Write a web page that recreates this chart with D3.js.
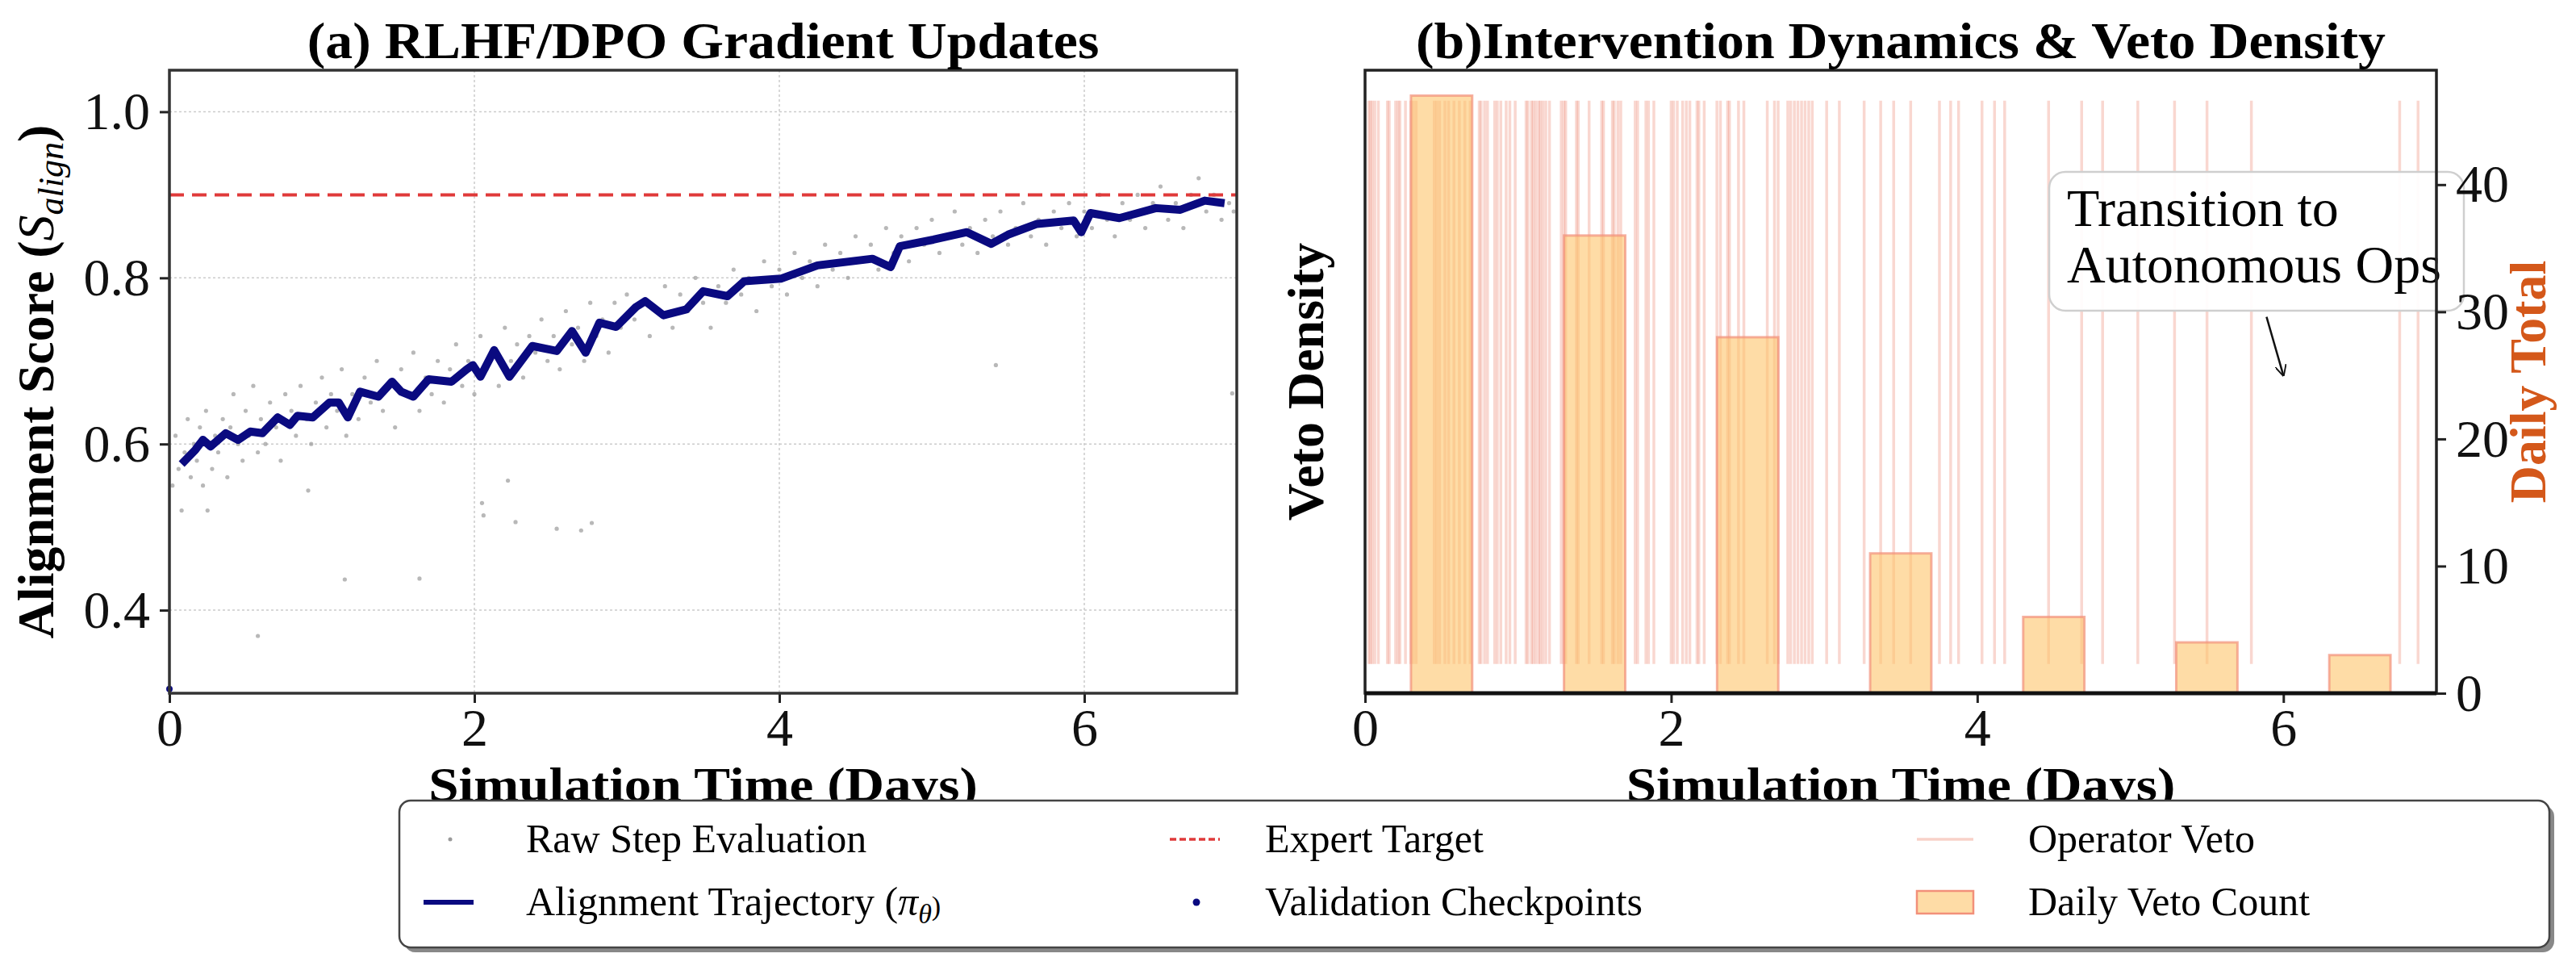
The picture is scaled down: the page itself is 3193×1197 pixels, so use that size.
<!DOCTYPE html>
<html>
<head>
<meta charset="utf-8">
<script src="https://cdn.jsdelivr.net/npm/d3@7"></script>
<style>
  body { margin: 0; background: #fff; }
  text { font-family: "Liberation Serif", "DejaVu Serif", serif; }
</style>
</head>
<body>
<svg id="chart" width="3193" height="1197"></svg>
<script>
// ---- panel (a) data ----
const trajDays = [0.08,0.17,0.22,0.27,0.37,0.45,0.53,0.61,0.71,0.79,0.84,0.94,1.05,1.11,1.17,1.25,1.37,1.46,1.52,1.6,1.7,1.85,1.95,1.99,2.04,2.13,2.23,2.38,2.54,2.64,2.73,2.82,2.93,3.06,3.12,3.24,3.39,3.5,3.66,3.77,4.01,4.25,4.61,4.73,4.79,5.01,5.23,5.39,5.5,5.69,5.93,5.98,6.04,6.23,6.47,6.63,6.79,6.92];
const trajVals = [0.576,0.593,0.605,0.597,0.613,0.605,0.615,0.613,0.632,0.623,0.634,0.632,0.65,0.65,0.632,0.663,0.657,0.675,0.663,0.657,0.678,0.675,0.69,0.695,0.681,0.713,0.681,0.718,0.712,0.736,0.71,0.746,0.741,0.765,0.772,0.755,0.762,0.784,0.778,0.796,0.799,0.815,0.823,0.813,0.838,0.846,0.855,0.841,0.852,0.865,0.869,0.855,0.878,0.872,0.884,0.882,0.893,0.89];
const rawSteps = [[0.02,.55],[0.04,.61],[0.06,.57],[0.08,.52],[0.1,.59],[0.12,.63],[0.14,.56],[0.16,.6],[0.18,.58],[0.2,.62],[0.22,.55],[0.24,.64],[0.26,.6],[0.28,.57],[0.3,.61],[0.32,.59],[0.35,.63],[0.38,.56],[0.4,.62],[0.42,.66],[0.45,.6],[0.48,.58],[0.5,.64],[0.52,.61],[0.55,.67],[0.58,.59],[0.6,.63],[0.63,.6],[0.66,.65],[0.7,.62],[0.73,.58],[0.76,.66],[0.8,.64],[0.83,.61],[0.86,.67],[0.9,.63],[0.93,.6],[0.96,.65],[1.0,.68],[1.03,.62],[1.06,.66],[1.1,.64],[1.13,.69],[1.16,.61],[1.2,.66],[1.24,.63],[1.28,.68],[1.32,.65],[1.36,.7],[1.4,.64],[1.44,.67],[1.48,.62],[1.52,.69],[1.56,.66],[1.6,.71],[1.64,.64],[1.68,.68],[1.72,.66],[1.76,.7],[1.8,.65],[1.84,.69],[1.88,.72],[1.92,.67],[1.96,.7],[2.0,.66],[2.04,.73],[2.08,.69],[2.12,.71],[2.16,.67],[2.2,.74],[2.24,.7],[2.28,.72],[2.32,.68],[2.36,.73],[2.4,.71],[2.44,.75],[2.48,.7],[2.52,.73],[2.56,.69],[2.6,.76],[2.64,.72],[2.68,.74],[2.72,.7],[2.76,.77],[2.8,.73],[2.84,.75],[2.88,.71],[2.92,.77],[2.96,.74],[3.0,.78],[3.05,.75],[3.1,.77],[3.15,.73],[3.2,.76],[3.25,.79],[3.3,.74],[3.35,.78],[3.4,.76],[3.45,.8],[3.5,.77],[3.55,.74],[3.6,.79],[3.65,.77],[3.7,.81],[3.75,.78],[3.8,.8],[3.85,.76],[3.9,.82],[3.95,.79],[4.0,.81],[4.05,.78],[4.1,.83],[4.15,.8],[4.2,.82],[4.25,.79],[4.3,.84],[4.35,.81],[4.4,.83],[4.45,.8],[4.5,.85],[4.55,.82],[4.6,.84],[4.65,.81],[4.7,.86],[4.75,.83],[4.8,.85],[4.85,.82],[4.9,.86],[4.95,.84],[5.0,.87],[5.05,.83],[5.1,.85],[5.15,.88],[5.2,.84],[5.25,.86],[5.3,.83],[5.35,.87],[5.4,.85],[5.45,.88],[5.5,.84],[5.55,.86],[5.6,.89],[5.65,.85],[5.7,.87],[5.75,.84],[5.8,.88],[5.85,.86],[5.9,.89],[5.95,.85],[6.0,.88],[6.05,.86],[6.1,.9],[6.15,.87],[6.2,.85],[6.25,.89],[6.3,.87],[6.35,.9],[6.4,.86],[6.45,.89],[6.5,.91],[6.55,.87],[6.6,.89],[6.65,.86],[6.7,.9],[6.75,.92],[6.8,.88],[6.85,.9],[6.9,.87],[6.95,.89],[6.98,.88],
  [1.15,.437],[1.64,.438],[0.58,.369],[2.05,.529],[2.06,.514],[2.22,.556],[2.27,.506],[2.54,.498],[2.7,.496],[2.77,.505],[0.91,.544],[0.25,.52],[5.42,.695],[6.97,.661]];
const checkDays = [0];
const checkVals = [0.305];
const targetScore = 0.9;

// ---- panel (b) data ----
const vetoDays = [0.024,0.035,0.047,0.064,0.087,0.146,0.158,0.2,0.216,0.228,0.264,0.299,0.315,0.334,0.452,0.468,0.487,0.522,0.546,0.581,0.616,0.652,0.687,0.746,0.758,0.781,0.8,0.847,0.864,0.887,0.922,0.946,0.981,1.052,1.064,1.087,1.099,1.115,1.134,1.146,1.162,1.181,1.205,1.282,1.299,1.311,1.381,1.393,1.464,1.546,1.558,1.616,1.628,1.652,1.671,1.765,1.781,1.835,1.852,1.887,2.0,2.016,2.04,2.075,2.099,2.122,2.169,2.181,2.216,2.299,2.322,2.369,2.381,2.44,2.475,2.628,2.675,2.699,2.762,2.781,2.805,2.828,2.852,2.875,2.899,2.922,3.016,3.099,3.261,3.369,3.454,3.565,3.753,3.826,3.878,4.031,4.113,4.179,4.466,4.682,4.819,5.049,5.289,5.501,5.791,6.76,6.88];
const dayCenters = [0.5,1.5,2.5,3.5,4.5,5.5,6.5];
const dailyCounts = [47,36,28,11,6,4,3];

const svg = d3.select('#chart');
const BOT = 859, TOP = 87;

// scales
const xL = d3.scaleLinear().domain([0,7]).range([210,1533]);
const yL = d3.scaleLinear().domain([0.30,1.05]).range([BOT,TOP]);
const xR = d3.scaleLinear().domain([0,7]).range([1692,3020]);
const yR = d3.scaleLinear().domain([0,49]).range([BOT,TOP]);

function styleAxis(g) {
    g.select('.domain').remove();
    g.selectAll('.tick line').attr('stroke','#222').attr('stroke-width',3);
    g.selectAll('.tick text').attr('font-size',66).attr('fill','#111')
        .attr('font-family','"Liberation Serif", serif');
}

// ===== panel (a) =====
const gA = svg.append('g');
// grid
gA.selectAll('.gx').data([0,2,4,6]).join('line')
    .attr('x1',d=>xL(d)).attr('x2',d=>xL(d)).attr('y1',TOP).attr('y2',BOT)
    .attr('stroke','#ccc').attr('stroke-width',1.5).attr('stroke-dasharray','3,3');
gA.selectAll('.gy').data([0.4,0.6,0.8,1.0]).join('line')
    .attr('x1',xL(0)).attr('x2',xL(7)).attr('y1',d=>yL(d)).attr('y2',d=>yL(d))
    .attr('stroke','#ccc').attr('stroke-width',1.5).attr('stroke-dasharray','3,3');

// raw scatter
gA.selectAll('.raw').data(rawSteps).join('circle')
    .attr('cx',d=>xL(d[0])).attr('cy',d=>yL(d[1])).attr('r',2.6)
    .attr('fill','#9a9a9a').attr('opacity',0.7);

// target line
gA.append('line').attr('x1',xL(0)).attr('x2',xL(7))
    .attr('y1',yL(targetScore)).attr('y2',yL(targetScore))
    .attr('stroke','#e03a3a').attr('stroke-width',4).attr('stroke-dasharray','18,10');

// trajectory
const line = d3.line().x((d,i)=>xL(trajDays[i])).y(d=>yL(d));
gA.append('path').datum(trajVals).attr('d',line)
    .attr('fill','none').attr('stroke','#0a0a80').attr('stroke-width',10)
    .attr('stroke-linejoin','round');

// checkpoints
gA.selectAll('.chk').data(checkVals).join('circle')
    .attr('cx',(d,i)=>xL(checkDays[i])).attr('cy',d=>yL(d)).attr('r',4).attr('fill','#0a0a80');

// axes
gA.append('g').attr('transform',`translate(0,${BOT})`)
    .call(d3.axisBottom(xL).tickValues([0,2,4,6]).tickFormat(d3.format('d')).tickSize(12).tickPadding(6))
    .call(styleAxis);
gA.append('g').attr('transform',`translate(${xL(0)},0)`)
    .call(d3.axisLeft(yL).tickValues([0.4,0.6,0.8,1.0]).tickFormat(d3.format('.1f')).tickSize(12).tickPadding(12))
    .call(styleAxis);
gA.append('rect').attr('x',xL(0)).attr('y',TOP).attr('width',xL(7)-xL(0)).attr('height',BOT-TOP)
    .attr('fill','none').attr('stroke','#333').attr('stroke-width',3.5);

gA.append('text').attr('transform',`translate(${(xL(0)+xL(7))/2},72) scale(1.06,1)`).attr('text-anchor','middle')
    .attr('font-size',64).attr('font-weight','bold').text('(a) RLHF/DPO Gradient Updates');
gA.append('text').attr('transform',`translate(${(xL(0)+xL(7))/2},992) scale(1.12,1)`).attr('text-anchor','middle')
    .attr('font-size',60).attr('font-weight','bold').text('Simulation Time (Days)');
const yl = gA.append('text').attr('transform',`translate(66,${(TOP+BOT)/2}) rotate(-90)`)
    .attr('text-anchor','middle').attr('font-size',64).attr('font-weight','bold');
yl.append('tspan').text('Alignment Score (');
yl.append('tspan').attr('font-style','italic').attr('font-weight','normal').text('S');
yl.append('tspan').attr('font-style','italic').attr('font-weight','normal').attr('font-size',44).attr('dy',12).text('align');
yl.append('tspan').attr('dy',-12).text(')');

// ===== panel (b) =====
const gB = svg.append('g');
const yFrac = d3.scaleLinear().domain([0,1]).range([BOT,TOP]);
gB.selectAll('.veto').data(vetoDays).join('line')
    .attr('x1',d=>xR(d)).attr('x2',d=>xR(d)).attr('y1',yFrac(0.047)).attr('y2',yFrac(0.951))
    .attr('stroke','#ec7a62').attr('stroke-opacity',0.3).attr('stroke-width',3.5);
gB.selectAll('.bar').data(dailyCounts).join('rect')
    .attr('x',(d,i)=>xR(dayCenters[i]-0.2)).attr('width',xR(0.4)-xR(0))
    .attr('y',d=>yR(d)).attr('height',d=>BOT-yR(d))
    .attr('fill','#fdc46a').attr('fill-opacity',0.6)
    .attr('stroke','#f2907a').attr('stroke-opacity',0.7).attr('stroke-width',3);

// annotation (drawn before the axes so the frame sits on top)
const annX = xR(4.47), annY = yR(41);
gB.append('rect').attr('x',annX).attr('y',annY).attr('width',514).attr('height',172).attr('rx',20)
    .attr('fill','#fff').attr('fill-opacity',0.92).attr('stroke','#cfcfcf').attr('stroke-width',2.5);
gB.append('text').attr('x',annX+22).attr('y',annY+67).attr('font-size',66).text('Transition to');
gB.append('text').attr('x',annX+22).attr('y',annY+137).attr('font-size',66).text('Autonomous Ops');
svg.append('defs').append('marker').attr('id','arr').attr('viewBox','0 0 10 10')
    .attr('refX',9).attr('refY',5).attr('markerWidth',14).attr('markerHeight',14)
    .attr('orient','auto').attr('markerUnits','userSpaceOnUse')
    .append('path').attr('d','M0,0 L10,5 L0,10').attr('fill','none').attr('stroke','#111').attr('stroke-width',1.3);
gB.append('line').attr('x1',xR(5.89)).attr('y1',yR(29.6)).attr('x2',xR(6.0)).attr('y2',yR(25))
    .attr('stroke','#111').attr('stroke-width',2.5).attr('marker-end','url(#arr)');

gB.append('g').attr('transform',`translate(0,${BOT})`)
    .call(d3.axisBottom(xR).tickValues([0,2,4,6]).tickFormat(d3.format('d')).tickSize(12).tickPadding(6))
    .call(styleAxis);
gB.append('g').attr('transform',`translate(${xR(7)},0)`)
    .call(d3.axisRight(yR).tickValues([0,10,20,30,40]).tickSize(12).tickPadding(12))
    .call(styleAxis);
gB.append('rect').attr('x',xR(0)).attr('y',TOP).attr('width',xR(7)-xR(0)).attr('height',BOT-TOP)
    .attr('fill','none').attr('stroke','#222').attr('stroke-width',3.5);
gB.append('line').attr('x1',xR(0)).attr('x2',xR(7)).attr('y1',BOT).attr('y2',BOT)
    .attr('stroke','#111').attr('stroke-width',5);

gB.append('text').attr('transform',`translate(${(xR(0)+xR(7))/2},72) scale(1.06,1)`).attr('text-anchor','middle')
    .attr('font-size',64).attr('font-weight','bold').text('(b)Intervention Dynamics & Veto Density');
gB.append('text').attr('transform',`translate(${(xR(0)+xR(7))/2},992) scale(1.12,1)`).attr('text-anchor','middle')
    .attr('font-size',60).attr('font-weight','bold').text('Simulation Time (Days)');
gB.append('text').attr('transform',`translate(1640,${(TOP+BOT)/2}) rotate(-90)`)
    .attr('text-anchor','middle').attr('font-size',64).attr('font-weight','bold').text('Veto Density');
gB.append('text').attr('transform',`translate(3155,${(TOP+BOT)/2}) rotate(-90)`)
    .attr('text-anchor','middle').attr('font-size',64).attr('font-weight','bold')
    .attr('fill','#d4581a').text('Daily Total');

// ===== legend =====
const lg = svg.append('g');
lg.append('rect').attr('x',501).attr('y',998).attr('width',2665).attr('height',182).attr('rx',14)
    .attr('fill','#888');
lg.append('rect').attr('x',495).attr('y',992).attr('width',2665).attr('height',182).attr('rx',14)
    .attr('fill','#fff').attr('stroke','#444').attr('stroke-width',2.5);
const rowY = [1040, 1118];
const colX = [525, 1450, 2376];
const textX = [652, 1568, 2514];
function legText(c,r,parts){
    const t = lg.append('text').attr('x',textX[c]).attr('y',rowY[r]+16).attr('font-size',50);
    parts.forEach(p=>{ const s=t.append('tspan').text(p.t); if(p.i) s.attr('font-style','italic'); if(p.sub) s.attr('font-size',34).attr('dy',p.sub); });
}
lg.append('circle').attr('cx',colX[0]+33).attr('cy',rowY[0]).attr('r',2.5).attr('fill','#9a9a9a');
legText(0,0,[{t:'Raw Step Evaluation'}]);
lg.append('line').attr('x1',colX[0]).attr('x2',colX[0]+62).attr('y1',rowY[1]).attr('y2',rowY[1])
    .attr('stroke','#0a0a80').attr('stroke-width',6);
legText(0,1,[{t:'Alignment Trajectory ('},{t:'π',i:true},{t:'θ',i:true,sub:10},{t:')',sub:-10}]);
lg.append('line').attr('x1',colX[1]).attr('x2',colX[1]+62).attr('y1',rowY[0]).attr('y2',rowY[0])
    .attr('stroke','#e03a3a').attr('stroke-width',3.5).attr('stroke-dasharray','8,4');
legText(1,0,[{t:'Expert Target'}]);
lg.append('circle').attr('cx',colX[1]+33).attr('cy',rowY[1]).attr('r',4.5).attr('fill','#0a0a80');
legText(1,1,[{t:'Validation Checkpoints'}]);
lg.append('line').attr('x1',colX[2]).attr('x2',colX[2]+70).attr('y1',rowY[0]).attr('y2',rowY[0])
    .attr('stroke','#ec7a62').attr('stroke-opacity',0.35).attr('stroke-width',3.5);
legText(2,0,[{t:'Operator Veto'}]);
lg.append('rect').attr('x',colX[2]).attr('y',rowY[1]-14).attr('width',70).attr('height',28)
    .attr('fill','#fdc46a').attr('fill-opacity',0.6).attr('stroke','#f2907a').attr('stroke-width',2.5);
legText(2,1,[{t:'Daily Veto Count'}]);
</script>
</body>
</html>
